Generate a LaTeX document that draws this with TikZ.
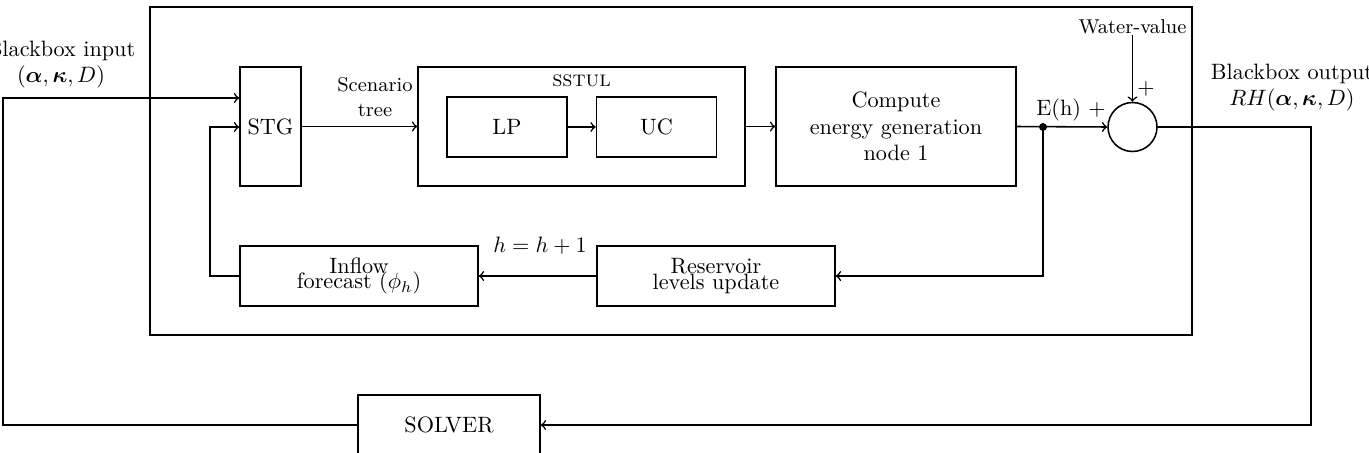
\documentclass[tikz,border=0pt]{standalone}
\usepackage{amsmath}
\usetikzlibrary{calc}
\begin{document}
\begin{tikzpicture}[x=0.45pt,y=-0.45pt, line width=0.7pt,
  blk/.style={draw, rectangle, inner sep=0pt, align=center},
  tall/.style={minimum height=53.55pt},
  short/.style={minimum height=27pt},
  lab/.style={inner sep=0pt, align=center}]
\useasboundingbox (0,0) rectangle (1369,452);
% outer frame
\draw (150,7) rectangle (1192,335);
% blocks
\node[blk, tall, minimum width=27.45pt] (stg) at (270.5,126.5) {STG};
\node[blk, tall, minimum width=147.15pt] (sstul) at (581.5,126.5) {};
\node[lab] (sstullab) at (581.5,81) {\textsc{sstul}};
\node[blk, short, minimum width=54pt] (lp) at (507,127) {LP};
\node[blk, short, minimum width=54pt] (uc) at (656.5,127) {UC};
\node[blk, tall, minimum width=108pt] (comp) at (896,126.5) {Compute\\energy generation\\node 1};
\node[draw, circle, minimum size=22.05pt, inner sep=0pt] (sum) at (1132.5,127) {};
\node[blk, short, minimum width=107.1pt] (inflow) at (359,276) {Inflow\\[-5pt]forecast ($\phi_h$)};
\node[blk, short, minimum width=107.1pt] (res) at (716,276) {Reservoir\\[-5pt]levels update};
\node[blk, short, minimum width=81.9pt] (solver) at (449,425) {SOLVER};
% labels
\node[lab] (bin) at (61,64.5) {Blackbox input\\$(\boldsymbol{\alpha},\boldsymbol{\kappa},D)$};
\node[lab] (bout) at (1292,87.5) {Blackbox output\\$RH(\boldsymbol{\alpha},\boldsymbol{\kappa},D)$};
\node[lab, font=\small] (scen) at (375,97) {Scenario\\tree};
\node[lab, font=\small] (wv) at (1132.5,27) {Water-value};
\node[lab] (plus) at (1146,89) {$+$};
\node[lab] (eh) at (1071,110) {E(h) $+$};
\node[lab] (hh) at (540,246) {$h=h+1$};
% coordinates
\coordinate (inL) at (3,98);
\coordinate (fb) at (210,127);
\coordinate (dot) at (1043,127);
\coordinate (outR) at (1311,127);
% connectors
\draw[->] (solver.west) -| (inL) -- (stg.west |- inL);
\draw[->] (inflow.west) -| (fb) -- (stg.west |- fb);
\draw[->] (stg.east) -- (sstul.west);
\draw[->] (lp.east) -- (uc.west);
\draw[->] (sstul.east) -- (comp.west);
\draw[->] (comp.east) -- (sum.west);
\fill (dot) circle (1.8pt);
\draw[->] (dot) |- (res.east);
\draw[->] (res.west) -- (inflow.east);
\draw[->] (wv.south) -- (sum.north);
\draw[->] (sum.east) -- (outR) |- (solver.east);
\end{tikzpicture}
\end{document}
